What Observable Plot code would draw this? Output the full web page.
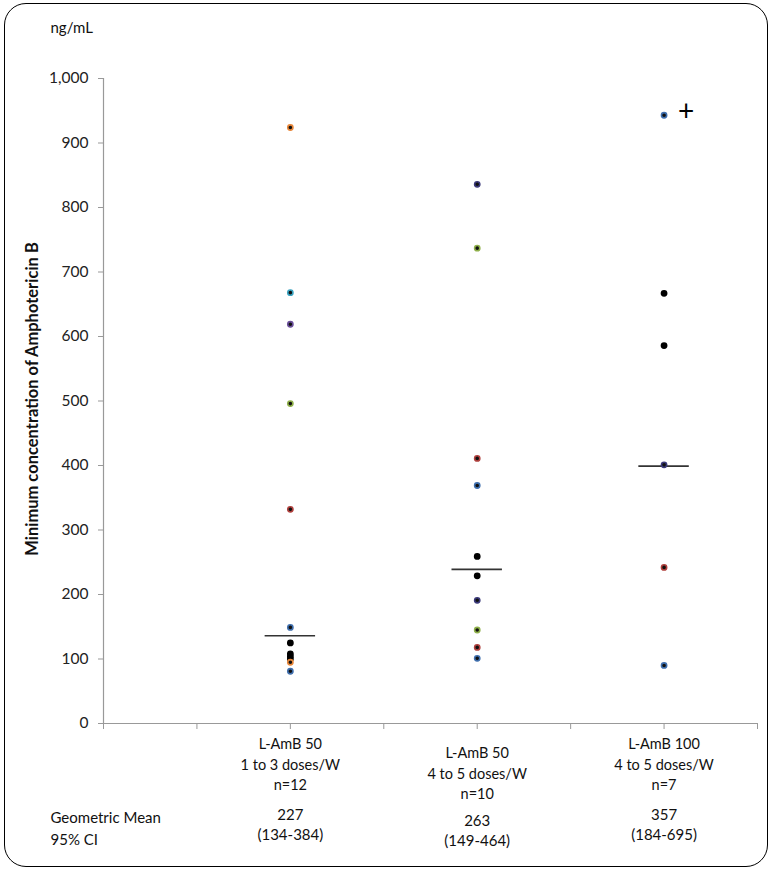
<!DOCTYPE html>
<html>
<head>
<meta charset="utf-8">
<script src="https://cdn.jsdelivr.net/npm/d3@7"></script>
<script src="https://cdn.jsdelivr.net/npm/@observablehq/plot@0.6"></script>
<style>
  html, body { margin: 0; padding: 0; background: #fff; }
  #wrap { position: relative; width: 774px; height: 876px; }
  #frame { position: absolute; left: 4px; top: 3px; width: 762px; height: 862px;
           border: 1.5px solid #000; border-radius: 22px; pointer-events: none; }
  svg { font-family: Lato, "Open Sans", sans-serif; }
</style>
</head>
<body>
<div id="wrap"><div id="frame"></div></div>
<script>
// ---- data ----
const groupPos = [2, 4, 6];
const groupLabels = ["L-AmB 50\n1 to 3 doses/W\nn=12", "L-AmB 50\n4 to 5 doses/W\nn=10", "L-AmB 100\n4 to 5 doses/W\nn=7"];
const geoMeans = ["227", "263", "357"];
const ci95 = ["(134-384)", "(149-464)", "(184-695)"];
const centerLines = [136, 239, 399];

const g1Values = [924, 668, 619, 496, 332, 149, 125, 108, 104, 100, 95, 81];
const g1Keys   = ["o", "t", "p", "g", "r", "b", "k", "k", "k", "k", "o", "b"];
const g2Values = [836, 737, 411, 369, 259, 229, 191, 145, 118, 101];
const g2Keys   = ["n", "g", "r", "b", "k", "k", "n", "g", "r", "b"];
const g3Values = [943, 667, 586, 401, 242, 90];
const g3Keys   = ["b", "k", "k", "n", "r", "b"];

const yTicks = d3.range(0, 1001, 100);
const xTicks = d3.range(0, 8);

// ---- build tables ----
const points = [];
[[g1Values, g1Keys], [g2Values, g2Keys], [g3Values, g3Keys]].forEach(([vals, keys], i) => {
  vals.forEach((v, j) => points.push({x: groupPos[i], v, key: keys[j]}));
});
const groups = groupPos.map((x, i) => ({x, label: groupLabels[i], gm: geoMeans[i], ci: ci95[i], line: centerLines[i], i}));
const outer = groups.filter(d => d.i !== 1);
const middle = groups.filter(d => d.i === 1);

const colorKeys = ["o", "t", "p", "g", "r", "b", "n", "k"];
const colorRange = ["#e8873a", "#3aa3c0", "#6a4f9a", "#8fb04a", "#b0403d", "#3f6fae", "#3b3a7a", "#000000"];
const col = d3.scaleOrdinal(colorKeys, colorRange);

const font = "Lato, 'Open Sans', sans-serif";

const chart = Plot.plot({
  width: 774,
  height: 876,
  marginLeft: 103,
  marginRight: 17,
  marginTop: 78,
  marginBottom: 153,
  style: {fontFamily: font, background: "transparent"},
  x: {domain: [0, 7], axis: null},
  y: {domain: [0, 1000], axis: null},
  marks: [
    Plot.ruleX([0], {stroke: "#999", strokeWidth: 1.2}),
    Plot.ruleY([0], {stroke: "#999", strokeWidth: 1.2}),
    Plot.axisY({ticks: yTicks, tickFormat: d3.format(","), tickSize: 5, tickPadding: 10,
                stroke: "#999", fill: "#222", fontSize: 15.5, label: null}),
    Plot.axisX({ticks: xTicks, tickFormat: () => "", tickSize: 6, stroke: "#999", label: null}),
    // center lines
    Plot.ruleY(groups, {y: "line", x1: d => d.x - 0.27, x2: d => d.x + 0.27, stroke: "#333", strokeWidth: 1.6}),
    // points
    Plot.dot(points, {x: "x", y: "v", r: 2.6, fill: d => d.key === "k" ? "#000" : "#111",
                      stroke: d => col(d.key), strokeWidth: 1.6}),
    // plus annotation on top of group 3
    Plot.text([groups[2]], {x: "x", y: d => g3Values[0], text: () => "+", dx: 22, dy: -3,
                            fontSize: 28, fill: "#000", fontWeight: "normal"}),
    // category labels
    Plot.text(outer, {x: "x", y: () => 0, text: "label", lineAnchor: "top",
                      dy: 11, fontSize: 14.5, lineHeight: 1.42, fill: "#111"}),
    Plot.text(middle, {x: "x", y: () => 0, text: "label", lineAnchor: "top",
                       dy: 20, fontSize: 14.5, lineHeight: 1.42, fill: "#111"}),
    // geometric mean & CI
    Plot.text(outer, {x: "x", y: () => 0, text: d => d.gm + "\n" + d.ci, lineAnchor: "top",
                      dy: 82, fontSize: 15, lineHeight: 1.36, fill: "#111"}),
    Plot.text(middle, {x: "x", y: () => 0, text: d => d.gm + "\n" + d.ci, lineAnchor: "top",
                       dy: 88, fontSize: 15, lineHeight: 1.36, fill: "#111"}),
    Plot.text(["Geometric Mean\n95% CI"], {frameAnchor: "bottom-left", text: d => d, textAnchor: "start",
                       lineAnchor: "top", dx: -53, dy: 84, fontSize: 15, lineHeight: 1.45, fill: "#111"}),
    // unit label
    Plot.text(["ng/mL"], {frameAnchor: "top-left", text: d => d, textAnchor: "start",
                       dx: -53, dy: -56, fontSize: 15, fill: "#111"}),
    // y title
    Plot.text(["Minimum concentration of Amphotericin B"], {frameAnchor: "left", text: d => d, rotate: -90,
                       textAnchor: "middle", dx: -71, dy: -2, fontSize: 16.5, fontWeight: "bold", fill: "#111"})
  ]
});
document.getElementById("wrap").prepend(chart);
</script>
</body>
</html>
